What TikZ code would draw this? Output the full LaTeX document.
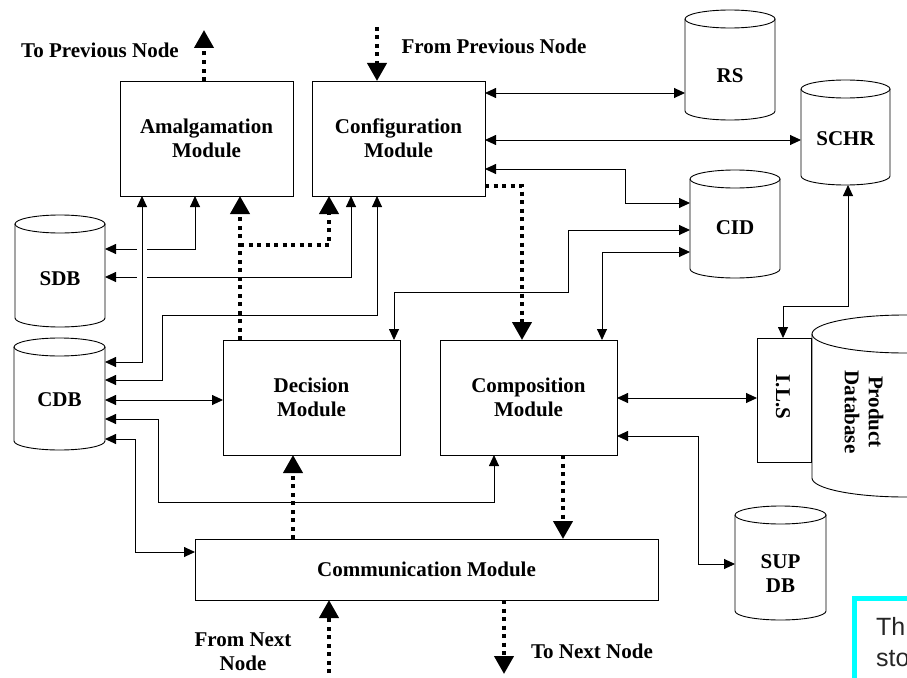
\documentclass[tikz,border=0pt]{standalone}
\usepackage{fontspec}
\setmainfont{Liberation Serif}
\newfontfamily\calloutfont{Liberation Sans}
\usetikzlibrary{arrows.meta}
\definecolor{calloutcyan}{RGB}{0,255,255}
\tikzset{
  lbl/.style={font=\bfseries\fontsize{21}{24}\selectfont, align=center, inner sep=0pt},
  box/.style={draw, line width=0.9pt, inner sep=0pt, outer sep=0pt, lbl},
  anch/.style={inner sep=0pt, outer sep=0pt},
  cyl/.style={line width=0.9pt},
  conn/.style={line width=0.9pt, {Triangle[length=11pt,width=10pt]}-{Triangle[length=11pt,width=10pt]}},
  flow/.style={line width=4pt, dash pattern=on 4pt off 4.5pt, -{Triangle[length=18pt,width=19pt]}},
  callout/.style={font=\calloutfont\fontsize{25}{28}\selectfont, text=black!85, anchor=base west, inner sep=0pt}
}
% name, x1, x2, ytop, ybottom, label y, label
\newcommand\dbcyl[7]{%
  \pgfmathsetmacro\dbcx{(#2+#3)/2}%
  \pgfmathsetmacro\dbcy{(#4+#5)/2}%
  \pgfmathsetmacro\dbrx{(#3-#2)/2}%
  \pgfmathsetmacro\dbw{#3-#2}%
  \pgfmathsetmacro\dbh{#5-#4}%
  \draw[cyl] (#2,#4+9) -- (#2,#5-9) arc[start angle=180,end angle=360,x radius=\dbrx pt,y radius=9pt] -- (#3,#4+9);
  \draw[cyl] (\dbcx,#4+9) ellipse[x radius=\dbrx pt,y radius=9pt];
  \node[anch, minimum width=\dbw pt, minimum height=\dbh pt] (#1) at (\dbcx,\dbcy) {};
  \node[lbl] at (\dbcx,#6) {#7};
}
\begin{document}
\begin{tikzpicture}[x=1pt,y=-1pt]
\useasboundingbox (0,0) rectangle (907,677);
\clip (0,0) rectangle (907,677);

% modules
\node[box, minimum width=173pt, minimum height=115pt] (amal) at (206.5,138.5) {Amalgamation\\Module};
\node[box, minimum width=173pt, minimum height=115pt] (conf) at (398.5,138.5) {Configuration\\Module};
\node[box, minimum width=177pt, minimum height=115pt] (dec) at (311.5,397.5) {Decision\\Module};
\node[box, minimum width=177pt, minimum height=115pt] (comp) at (528.5,397.5) {Composition\\Module};
\node[box, minimum width=463pt, minimum height=61pt] (comm) at (426.5,569.5) {Communication Module};
\node[box, minimum width=54pt, minimum height=124pt] (ils) at (784,400) {};
\node[lbl, rotate=-90] at (783,397) {I.L.S};

% databases
\dbcyl{rs}{685}{775}{10}{120}{76}{RS}
\dbcyl{schr}{801}{890}{80}{185}{139}{SCHR}
\dbcyl{cid}{690}{780}{170}{278}{228}{CID}
\dbcyl{sdb}{15}{105}{215}{327}{279}{SDB}
\dbcyl{cdb}{14}{105}{338}{450}{400}{CDB}
\dbcyl{supdb}{735}{826}{506}{620}{574}{SUP\\DB}

% product database (partly outside the frame)
\draw[cyl] (812,334) -- (812,478) arc[start angle=180,end angle=360,x radius=93pt,y radius=19pt] -- (998,334);
\draw[cyl] (905,334) ellipse[x radius=93pt,y radius=19pt];
\node[anch, minimum width=186pt, minimum height=182pt] (pdb) at (905,406) {};
\node[lbl, rotate=-90] at (864,412) {Product\\Database};

% text labels
\node[lbl, anchor=base] (toprev) at (100,58) {To Previous Node};
\node[lbl, anchor=base] (fromprev) at (494,53) {From Previous Node};
\node[lbl] (fromnext) at (243,652) {From Next\\Node};
\node[lbl, anchor=base] (tonext) at (592,658) {To Next Node};

% free ends
\coordinate (prevout) at (204,30);
\coordinate (previn) at (377,27);
\coordinate (nextin) at (329,690);
\coordinate (nextout) at (504,674);

% thin connectors
\draw[conn] (conf.east |- 0,93) -- (rs.west |- 0,93);
\draw[conn] (conf.east |- 0,140) -- (schr.west |- 0,140);
\draw[conn] (conf.east |- 0,169) -- (625,169) -- (625,203) -- (cid.west |- 0,203);
\draw[conn] (amal.south -| 195,0) -- (195,249) -- (sdb.east |- 0,249);
\draw[conn] (conf.south -| 351,0) -- (351,277) -- (sdb.east |- 0,277);
\draw[white, line width=10pt] (142,240) -- (142,286);
\draw[conn] (amal.south -| 142,0) -- (142,362) -- (cdb.east |- 0,362);
\draw[conn] (conf.south -| 377,0) -- (377,315) -- (162,315) -- (162,380) -- (cdb.east |- 0,380);
\draw[conn] (cdb.east |- 0,400) -- (dec.west |- 0,400);
\draw[conn] (cdb.east |- 0,419) -- (158,419) -- (158,502) -- (494,502) -- (comp.south -| 494,0);
\draw[conn] (cdb.east |- 0,439) -- (135,439) -- (135,552) -- (comm.west |- 0,552);
\draw[conn] (dec.north -| 394,0) -- (394,292) -- (568,292) -- (568,230) -- (cid.west |- 0,230);
\draw[conn] (comp.north -| 602,0) -- (602,252) -- (cid.west |- 0,252);
\draw[conn] (schr.south -| 848,0) -- (848,306) -- (783,306) -- (ils.north -| 783,0);
\draw[conn] (comp.east |- 0,398) -- (ils.west |- 0,398);
\draw[conn] (comp.east |- 0,436) -- (698,436) -- (698,564) -- (supdb.west |- 0,564);

% dotted flows
\draw[flow] (amal.north -| 204,0) -- (prevout);
\draw[flow] (previn) -- (conf.north -| 377,0);
\draw[flow] (conf.east |- 0,186) -- (522,186) -- (comp.north -| 522,0);
\draw[flow] (dec.north -| 240,0) -- (amal.south -| 240,0);
\draw[flow] (240,245) -- (329,245) -- (conf.south -| 329,0);
\draw[flow] (comm.north -| 293,0) -- (dec.south -| 293,0);
\draw[flow] (comp.south -| 563,0) -- (comm.north -| 563,0);
\draw[flow] (nextin) -- (comm.south -| 329,0);
\draw[flow] (comm.south -| 504,0) -- (nextout);

% clipped callout
\draw[calloutcyan, line width=5pt] (854.5,720) -- (854.5,598.5) -- (1000,598.5);
\node[callout] (th) at (876,635) {Th};
\node[callout] (sto) at (876,666) {sto};
\end{tikzpicture}
\end{document}
